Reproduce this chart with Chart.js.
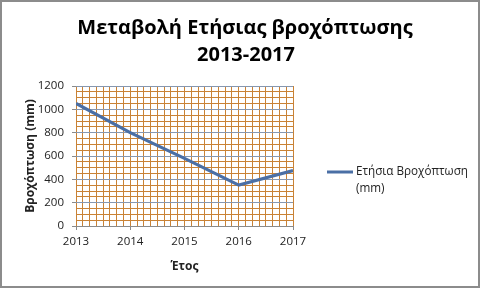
<!DOCTYPE html>
<html>
<head>
<meta charset="utf-8">
<script src="https://cdn.jsdelivr.net/npm/chart.js@4.4.1/dist/chart.umd.min.js"></script>
<style>
html,body{margin:0;padding:0;background:#fff;}
#wrap{width:481px;height:289px;position:relative;}
canvas{display:block;}
</style>
</head>
<body>
<div id="wrap"><canvas id="c" width="481" height="289"></canvas></div>
<script>
const years = [2013, 2014, 2015, 2016, 2017];
const rainfall = [1050, 800, 580, 350, 475];
const titleLines = ['Μεταβολή Ετήσιας βροχόπτωσης', '2013-2017'];
const seriesLabel = 'Ετήσια Βροχόπτωση (mm)';
const legendLines = ['Ετήσια Βροχόπτωση', '(mm)'];
const yTitle = 'Βροχόπτωση (mm)';
const xTitle = 'Έτος';

const FONT = '"Open Sans", "Noto Sans", sans-serif';
const LINE = '#4a6fa5';
const ORANGE = '#c98235';
const MAJOR = '#8697b0';
const AXIS = '#8a8a8a';

const decor = {
  id: 'decor',
  afterDraw(chart) {
    const ctx = chart.ctx;
    ctx.save();
    ctx.strokeStyle = '#8c8c8c';
    ctx.lineWidth = 2;
    ctx.strokeRect(1, 1, 478, 286);
    ctx.fillStyle = '#000';
    ctx.font = 'bold 20px ' + FONT;
    ctx.textAlign = 'center';
    ctx.textBaseline = 'middle';
    ctx.fillText(titleLines[0], 245, 28);
    ctx.fillText(titleLines[1], 246, 55);
    ctx.strokeStyle = LINE;
    ctx.lineWidth = 3;
    ctx.beginPath();
    ctx.moveTo(327, 172);
    ctx.lineTo(353, 172);
    ctx.stroke();
    ctx.font = '11.7px ' + FONT;
    ctx.textAlign = 'left';
    ctx.fillStyle = '#222';
    ctx.fillText(legendLines[0], 356, 172);
    ctx.fillText(legendLines[1], 356, 189);
    ctx.restore();
  }
};

new Chart(document.getElementById('c'), {
  type: 'line',
  data: {
    datasets: [{
      label: seriesLabel,
      data: years.map((y, i) => ({x: y, y: rainfall[i]})),
      borderColor: LINE,
      backgroundColor: LINE,
      borderWidth: 3.2,
      pointRadius: 0,
      tension: 0
    }]
  },
  options: {
    responsive: false,
    animation: false,
    devicePixelRatio: 1,
    layout: {padding: {left: 0, right: 188, top: 86, bottom: 0}},
    plugins: {legend: {display: false}, title: {display: false}, tooltip: {enabled: false}},
    scales: {
      x: {
        type: 'linear',
        min: years[0], max: years[years.length - 1],
        afterFit(s) { s.height = 63; },
        ticks: {
          stepSize: 0.125, autoSkip: false, maxRotation: 0, padding: 5,
          color: '#222', font: {family: FONT, size: 11.5},
          callback: v => Number.isInteger(v) ? String(v) : ''
        },
        grid: {
          color: ORANGE, lineWidth: 1, tickLength: 4,
          tickColor: c => Number.isInteger(c.tick.value) ? AXIS : 'rgba(0,0,0,0)'
        },
        border: {display: true, color: AXIS, width: 1},
        title: {display: true, text: xTitle, color: '#222', font: {family: FONT, size: 12, weight: 'bold'}, padding: {top: 0, bottom: 15}}
      },
      y: {
        min: 0, max: 1200,
        afterFit(s) { s.width = 76; },
        ticks: {
          stepSize: 50, autoSkip: false, padding: 8,
          color: '#222', font: {family: FONT, size: 11.5},
          callback: v => v % 200 === 0 ? String(v) : ''
        },
        grid: {
          color: c => (c.tick.value % 200 === 0) ? MAJOR : ORANGE,
          lineWidth: 1, tickLength: 4,
          tickColor: c => (c.tick.value % 200 === 0) ? AXIS : 'rgba(0,0,0,0)'
        },
        border: {display: false},
        title: {display: true, text: yTitle, color: '#222', font: {family: FONT, size: 12, weight: 'bold'}, padding: {top: 23, bottom: 0}}
      }
    }
  },
  plugins: [decor]
});
</script>
</body>
</html>
